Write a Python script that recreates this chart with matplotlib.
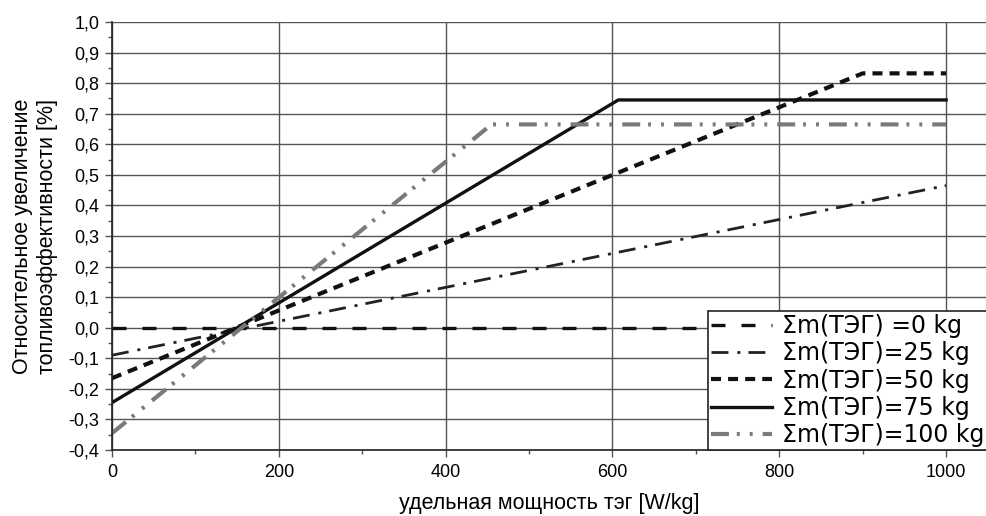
import matplotlib
matplotlib.use("Agg")
import matplotlib.pyplot as plt
from matplotlib.ticker import MultipleLocator, FuncFormatter

plt.rcParams['font.family'] = ['Liberation Sans', 'DejaVu Sans']

# data
labels = ["Σm(ТЭГ) =0 kg", "Σm(ТЭГ)=25 kg", "Σm(ТЭГ)=50 kg", "Σm(ТЭГ)=75 kg", "Σm(ТЭГ)=100 kg"]
x_0 = [0, 1000]
y_0 = [0.0, 0.0]
x_25 = [0, 1000]
y_25 = [-0.09, 0.465]
x_50 = [0, 900, 1000]
y_50 = [-0.165, 0.832, 0.832]
x_75 = [0, 607, 1000]
y_75 = [-0.245, 0.745, 0.745]
x_100 = [0, 455, 1000]
y_100 = [-0.345, 0.665, 0.665]

fig = plt.figure(figsize=(9.87, 5.16), dpi=100)
ax = fig.add_axes([112/987, 1 - 450/516, 1 - 112/987, (450 - 22)/516])

ax.plot(x_0, y_0, color='#111111', lw=2.4, dashes=(4.2, 4.8), label=labels[0])
ax.plot(x_25, y_25, color='#222222', lw=2.0, dashes=(6.1, 3.2, 1.1, 2.9), label=labels[1])
ax.plot(x_50, y_50, color='#111111', lw=3.0, dashes=(2.4, 1.7), label=labels[2])
ax.plot(x_75, y_75, color='#111111', lw=2.4, label=labels[3])
ax.plot(x_100, y_100, color='#7a7a7a', lw=3.0, dashes=(4.3, 1.9, 0.7, 2.4, 0.7, 2.4), label=labels[4])

ax.set_xlim(0, 1049)
ax.set_ylim(-0.4, 1.0)
ax.xaxis.set_major_locator(MultipleLocator(200))
ax.xaxis.set_minor_locator(MultipleLocator(100))
ax.yaxis.set_major_locator(MultipleLocator(0.1))
ax.yaxis.set_minor_locator(MultipleLocator(0.05))
ax.xaxis.set_major_formatter(FuncFormatter(lambda v, p: "%d" % v if v <= 1000 else ""))
ax.yaxis.set_major_formatter(FuncFormatter(lambda v, p: ("%.1f" % v).replace('.', ',').replace('-0,0', '0,0')))

ax.grid(True, which='major', color='#555555', lw=1.0)
ax.set_axisbelow(True)
for s in ['top', 'right']:
    ax.spines[s].set_visible(False)
for s in ['left', 'bottom']:
    ax.spines[s].set_color('#222222')
    ax.spines[s].set_linewidth(1.2)
ax.tick_params(which='major', direction='out', length=5, width=1, color='#555555', labelsize=13, pad=4)
ax.tick_params(which='minor', direction='out', length=3, width=1, color='#555555')
ax.tick_params(axis='x', pad=5)

ax.set_xlabel("удельная мощность тэг [W/kg]", fontsize=15.5, labelpad=9)
ax.set_ylabel("Относительное увеличение\nтопливоэффективности [%]", fontsize=15.5, labelpad=8)

leg = ax.legend(loc='lower right', bbox_to_anchor=(1.0, 0.0), borderaxespad=0,
                prop={'family': 'DejaVu Sans', 'size': 17},
                handlelength=2.6, handletextpad=0.4, labelspacing=0.14, borderpad=0.12,
                fancybox=False, frameon=True, edgecolor='#222222', framealpha=1)
leg.get_frame().set_linewidth(1.2)

fig.savefig("out.png", dpi=100)
